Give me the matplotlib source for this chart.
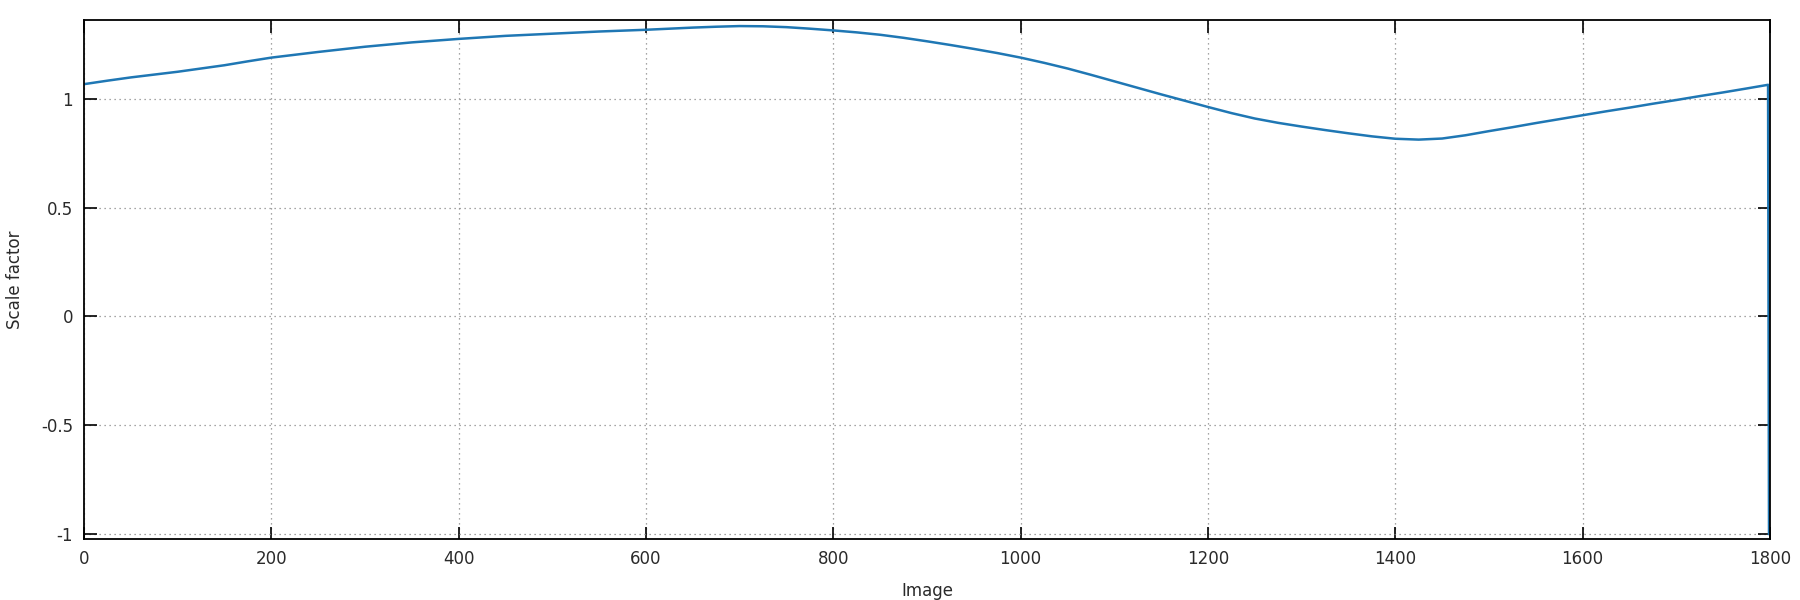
import numpy as np
import matplotlib
matplotlib.use('Agg')
import matplotlib.pyplot as plt

# scale factor per image (every 25 images)
image = list(range(0, 1800, 25)) + [1798, 1799]
scale = [1.068, 1.084, 1.099, 1.112, 1.125, 1.140, 1.155, 1.173,
         1.190, 1.203, 1.216, 1.228, 1.240, 1.250, 1.260, 1.268,
         1.276, 1.283, 1.290, 1.295, 1.300, 1.305, 1.310, 1.314,
         1.318, 1.323, 1.328, 1.332, 1.335, 1.334, 1.330, 1.323,
         1.315, 1.306, 1.295, 1.281, 1.265, 1.248, 1.230, 1.211,
         1.190, 1.166, 1.140, 1.111, 1.081, 1.051, 1.021, 0.992,
         0.963, 0.935, 0.910, 0.890, 0.873, 0.857, 0.842, 0.828,
         0.817, 0.813, 0.818, 0.833, 0.852, 0.870, 0.889, 0.907,
         0.925, 0.943, 0.960, 0.978, 0.995, 1.013, 1.030, 1.048,
         1.065, -1.0]

x_ticks = [0, 200, 400, 600, 800, 1000, 1200, 1400, 1600, 1800]
y_ticks = [-1, -0.5, 0, 0.5, 1]
y_labels = ['-1', '-0.5', '0', '0.5', '1']

plt.rcParams['font.family'] = ['DejaVu Sans']
fig = plt.figure(figsize=(18, 6), dpi=100)
ax = fig.add_axes([0.0467, 0.1017, 0.9366, 0.865])

ax.plot(image, scale, color='#1f77b4', lw=1.8)

ax.set_xlim(0, 1800)
ax.set_ylim(-1.023, 1.363)
ax.set_xticks(x_ticks)
ax.set_xticklabels([str(t) for t in x_ticks])
ax.set_yticks(y_ticks)
ax.set_yticklabels(y_labels)
ax.tick_params(direction='in', length=9, width=1.2, top=True, right=True,
               labelsize=12, pad=8, color='black', labelcolor='#2a2a2a')
for s in ax.spines.values():
    s.set_linewidth(1.3)
ax.grid(True, color='#888888', linestyle=(0, (1, 3)), linewidth=0.9)

ax.set_xlabel('Image', fontsize=12, labelpad=10, color='#2a2a2a')
ax.set_ylabel('Scale factor', fontsize=12, labelpad=12, color='#2a2a2a')

plt.savefig('out.png', dpi=100)
